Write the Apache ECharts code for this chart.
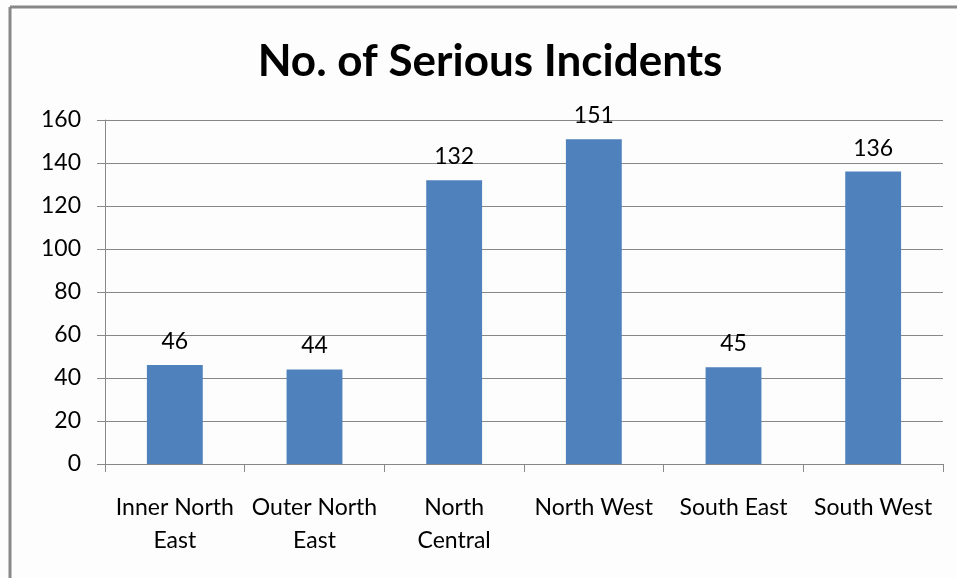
<!DOCTYPE html>
<html><head><meta charset="utf-8">
<script src="https://cdn.jsdelivr.net/npm/echarts@6/dist/echarts.min.js"></script>
<style>html,body{margin:0;padding:0;background:#fff}#c{width:957px;height:578px}</style>
</head><body><div id="c"></div>
<script>
const categories = ["Inner North\nEast", "Outer North\nEast", "North\nCentral", "North West", "South East", "South West"];
const values = [46, 44, 132, 151, 45, 136];
const titleText = "No. of Serious Incidents";

const chart = echarts.init(document.getElementById('c'), null, {renderer: 'canvas'});
const font = "Lato, 'Open Sans', sans-serif";
chart.setOption({
  backgroundColor: '#fdfdfd',
  animation: false,
  title: {
    text: titleText, left: 485, top: 35, textAlign: 'center',
    textStyle: {fontFamily: font, fontWeight: 'bold', fontSize: 44, color: '#000'}
  },
  graphic: [
    {type: 'line', shape: {x1: 10, y1: 7, x2: 957, y2: 7}, style: {stroke: '#888', lineWidth: 3}},
    {type: 'line', shape: {x1: 10, y1: 7, x2: 10, y2: 578}, style: {stroke: '#888', lineWidth: 3}}
  ],
  grid: {left: 105, right: 14, top: 120, bottom: 114},
  xAxis: {
    type: 'category', data: categories,
    axisLine: {lineStyle: {color: '#888', width: 1}},
    axisTick: {show: true, length: 8, lineStyle: {color: '#888'}},
    axisLabel: {interval: 0, color: '#000', fontFamily: font, fontSize: 23, margin: 27, lineHeight: 33}
  },
  yAxis: {
    type: 'value', min: 0, max: 160, interval: 20,
    axisLine: {show: true, lineStyle: {color: '#888'}},
    axisTick: {show: true, length: 8, lineStyle: {color: '#888'}},
    splitLine: {lineStyle: {color: '#888', width: 1}},
    axisLabel: {color: '#000', fontFamily: font, fontSize: 23, margin: 24}
  },
  series: [{
    type: 'bar', data: values, barWidth: '40%',
    itemStyle: {color: '#4f81bd'},
    label: {show: true, position: 'top', distance: 12, color: '#000', fontFamily: font, fontSize: 23}
  }]
});
</script></body></html>
